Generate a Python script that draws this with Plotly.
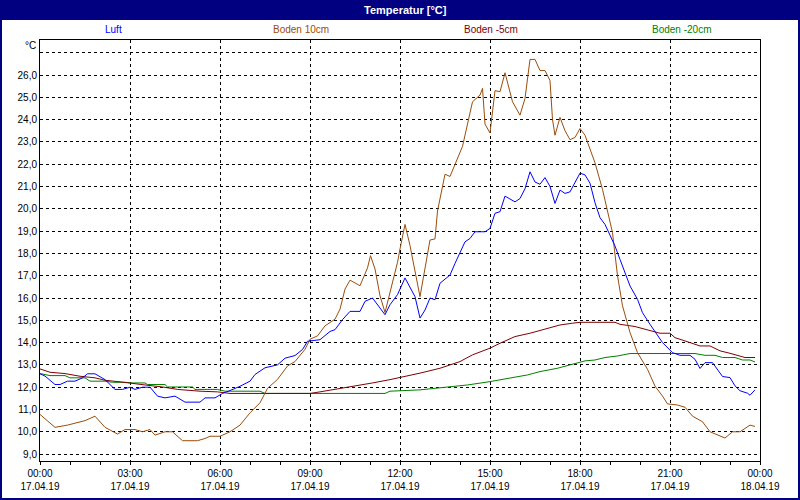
import plotly.graph_objects as go

DAY = "2019-04-17"

# Luft (blue)
luft_t = ["00:00","00:10","00:30","00:40","00:55","01:10","01:25","01:35","01:50","02:10","02:30","02:45",
          "03:00","03:10","03:25","03:40","03:55","04:10","04:30","04:50","05:20","05:30","05:50","06:05",
          "06:20","06:40","07:00","07:10","07:20","07:30","07:55","08:10","08:30","08:45","08:55","09:20",
          "09:40","09:50","10:05","10:20","10:40","10:50","11:05","11:15","11:30","11:40","11:55","12:10",
          "12:20","12:30","12:40","12:50","13:00","13:10","13:20","13:40","13:50","14:00","14:10","14:20",
          "14:30","14:50","15:00","15:10","15:20","15:30","15:50","16:00","16:10","16:20","16:30","16:40",
          "16:50","17:00","17:10","17:20","17:30","17:40","17:50","18:00","18:10","18:20","18:30","18:40",
          "18:50","19:00","19:10","19:20","19:30","19:40","19:55","20:05","20:20","20:35","20:45","21:05",
          "21:20","21:40","21:50","22:00","22:10","22:25","22:35","22:45","23:00","23:10","23:20","23:35",
          "23:40","23:50"]
luft_v = [12.6,12.5,12.12,12.12,12.27,12.27,12.42,12.6,12.6,12.34,11.9,11.9,
          12.0,11.9,12.0,12.0,11.6,11.52,11.6,11.33,11.33,11.52,11.52,11.72,
          11.85,12.04,12.27,12.57,12.72,12.87,13.0,13.3,13.42,13.69,14.06,14.13,
          14.5,14.58,15.03,15.4,15.4,15.85,16.0,15.7,15.25,15.7,16.15,16.9,
          16.5,16.06,15.1,15.46,16.0,15.92,16.66,17.03,17.55,18.0,18.52,18.67,
          18.97,18.97,19.12,19.8,19.87,20.57,20.31,20.46,20.9,21.66,21.2,21.1,
          21.4,21.0,20.24,20.84,20.69,20.76,21.2,21.6,21.52,21.15,20.27,19.6,
          19.3,18.85,18.33,17.73,17.13,16.54,15.94,15.34,14.82,14.3,14.0,13.55,
          13.43,13.43,13.25,12.84,13.1,13.1,12.81,12.48,12.43,12.06,11.84,11.73,
          11.64,11.88]

# Boden 10cm (brown)
b10_t = ["00:00","00:30","00:55","01:30","01:50","02:10","02:35","02:50","03:10","03:25","03:40","03:50",
         "04:10","04:25","04:45","05:15","05:30","05:40","06:00","06:20","06:40","07:00","07:20","07:35",
         "07:55","08:15","08:30","08:50","09:00","09:15","09:30","09:50","10:00","10:10","10:20","10:40",
         "10:55","11:01","11:10","11:20","11:30","11:35","11:45","11:55","12:00","12:10","12:20","12:40",
         "13:00","13:10","13:15","13:30","13:40","13:50","14:05","14:15","14:25","14:40","14:45","14:50",
         "15:00","15:10","15:20","15:30","15:45","16:00","16:10","16:20","16:30","16:40","16:50","17:00",
         "17:05","17:10","17:20","17:30","17:40","17:50","18:00","18:10","18:20","18:30","18:45","19:05",
         "19:15","19:25","19:40","19:55","20:15","20:30","20:45","20:55","21:15","21:30","21:45","22:05",
         "22:20","22:35","22:50","23:05","23:20","23:40","23:50"]
b10_v = [10.78,10.2,10.3,10.5,10.7,10.2,9.9,10.1,10.1,10.0,10.1,9.85,
         10.0,10.0,9.6,9.6,9.7,9.8,9.8,10.0,10.3,10.85,11.3,11.95,
         12.35,12.95,13.15,13.7,14.15,14.3,14.75,15.05,15.5,16.4,16.8,16.55,
         17.35,17.9,17.3,16.1,15.35,15.8,16.8,17.6,18.2,19.3,18.35,16.06,
         18.6,18.65,19.9,21.55,21.45,22.0,22.8,23.8,24.8,25.1,25.4,23.8,
         23.4,25.3,25.25,26.1,24.8,24.2,24.95,26.7,26.7,26.2,26.2,25.75,
         24.0,23.3,24.1,23.5,23.1,23.2,23.6,23.3,22.7,22.06,20.87,18.93,
         17.0,15.65,14.45,13.55,12.8,12.05,11.6,11.25,11.2,11.1,10.7,10.45,
         10.0,9.87,9.72,10.0,10.0,10.3,10.24]

# Boden -5cm (dark red)
b5_t = ["00:00","00:20","00:50","01:20","01:50","02:10","02:40","03:05","03:30","04:05","04:35","05:20",
        "05:55","06:20","09:00","09:20","09:50","10:25","11:05","11:40","12:15","12:40","13:20","14:00",
        "14:25","15:00","15:20","15:50","16:20","16:55","17:20","17:45","18:00","19:10","19:20","19:50",
        "20:20","20:40","21:00","21:10","21:20","21:40","22:00","22:20","22:40","23:00","23:20","23:30",
        "23:50"]
b5_v = [12.82,12.67,12.61,12.49,12.42,12.31,12.24,12.16,12.1,12.01,11.9,11.82,
        11.79,11.72,11.72,11.79,11.9,12.04,12.19,12.34,12.49,12.63,12.85,13.15,
        13.45,13.75,13.97,14.27,14.42,14.64,14.79,14.87,14.91,14.91,14.82,14.72,
        14.52,14.42,14.42,14.22,14.15,14.0,13.85,13.85,13.63,13.52,13.4,13.33,
        13.33]

# Boden -20cm (green)
b20_t = ["00:00","00:20","00:50","01:00","01:30","01:40","02:10","02:25","02:50","03:05","03:30","03:35",
         "04:10","04:15","05:05","05:10","05:55","06:10","07:20","07:30","11:30","11:40","12:40","13:25",
         "14:15","15:00","15:35","16:15","16:40","17:15","17:40","18:10","18:30","18:50","19:15","19:40",
         "21:50","22:10","22:30","22:45","23:10","23:25","23:40","23:50"]
b20_v = [12.61,12.52,12.52,12.42,12.42,12.27,12.27,12.22,12.22,12.19,12.19,12.12,
         12.12,12.01,12.01,11.9,11.9,11.82,11.82,11.72,11.72,11.82,11.88,11.99,
         12.1,12.25,12.4,12.55,12.7,12.85,13.0,13.18,13.22,13.33,13.4,13.51,
         13.51,13.43,13.43,13.33,13.33,13.22,13.22,13.13]

series_names = ["Luft", "Boden 10cm", "Boden -5cm", "Boden -20cm"]
series_colors = ["#0000ff", "#9a4d0c", "#800000", "#008000"]
y_ticks = list(range(9, 28))
y_ticktext = [f"{v},0" for v in y_ticks[:-1]] + [""]

FONT = "Liberation Sans, Arial, sans-serif"
W, H = 800, 500
L, R, T, B = 40, 40, 40, 39


def px_x(p):
    return (p - L) / (W - L - R)


def px_y(p):
    return (H - B - p) / (H - T - B)


def ts(times):
    return [f"{DAY} {t}:00" for t in times]


fig = go.Figure()
data = [(luft_t, luft_v), (b10_t, b10_v), (b5_t, b5_v), (b20_t, b20_v)]
# draw order: green, dark red, brown, blue on top
for idx in [3, 2, 1, 0]:
    t, v = data[idx]
    fig.add_trace(go.Scatter(x=ts(t), y=v, mode="lines", name=series_names[idx],
                             line=dict(color=series_colors[idx], width=1)))

fig.update_layout(
    width=W, height=H,
    margin=dict(l=L, r=R, t=T, b=B, autoexpand=False),
    paper_bgcolor="white", plot_bgcolor="white",
    showlegend=False,
    font=dict(family=FONT, size=10, color="#000000"),
)
fig.update_xaxes(
    type="date", automargin=False,
    range=[f"{DAY} 00:00:00", "2019-04-18 00:00:00"],
    tick0=f"{DAY} 00:00:00", dtick=3 * 3600000,
    tickformat="%H:%M<br>%d.%m.%y",
    showgrid=True, gridcolor="#000000", gridwidth=1, griddash="3px,3px",
    showline=True, linecolor="#000000", linewidth=1, mirror=True,
    ticks="outside", ticklen=3, tickcolor="#000000",
    minor=dict(dtick=3600000, ticks="outside", ticklen=3, tickcolor="#000000", showgrid=False),
    zeroline=False,
    tickfont=dict(family=FONT, size=10, color="#000000"),
)
fig.update_yaxes(
    automargin=False,
    range=[8.69, 27.57],
    tickvals=y_ticks, ticktext=y_ticktext,
    showgrid=True, gridcolor="#000000", gridwidth=1, griddash="3px,3px",
    showline=True, linecolor="#000000", linewidth=1, mirror=True,
    ticks="", zeroline=False,
    tickfont=dict(family=FONT, size=10, color="#000000"),
)

# title bar and window border
fig.add_shape(type="rect", xref="paper", yref="paper",
              x0=px_x(0), x1=px_x(800), y0=px_y(20), y1=px_y(0),
              fillcolor="#000080", line=dict(width=0), layer="above")
fig.add_shape(type="rect", xref="paper", yref="paper",
              x0=px_x(1), x1=px_x(799), y0=px_y(499), y1=px_y(1),
              fillcolor="rgba(0,0,0,0)", line=dict(color="#000080", width=2), layer="above")
fig.add_annotation(xref="paper", yref="paper", x=px_x(405), y=px_y(10),
                   text="<b>Temperatur [°C]</b>", showarrow=False,
                   font=dict(family=FONT, size=11, color="white"),
                   xanchor="center", yanchor="middle")

# legend row
legend_x = [113, 301, 491, 681]
for name, col, lx in zip(series_names, series_colors, legend_x):
    fig.add_annotation(xref="paper", yref="paper", x=px_x(lx), y=px_y(30),
                       text=name, showarrow=False,
                       font=dict(family=FONT, size=10, color=col),
                       xanchor="center", yanchor="middle")

# unit label
fig.add_annotation(xref="paper", yref="paper", x=px_x(38), y=px_y(45),
                   text="°C", showarrow=False,
                   font=dict(family=FONT, size=10, color="#000000"),
                   xanchor="right", yanchor="middle")

fig.write_html("out.html",
               config={"displayModeBar": False},
               post_script="document.body.style.margin='0px';document.body.style.overflow='hidden';")
